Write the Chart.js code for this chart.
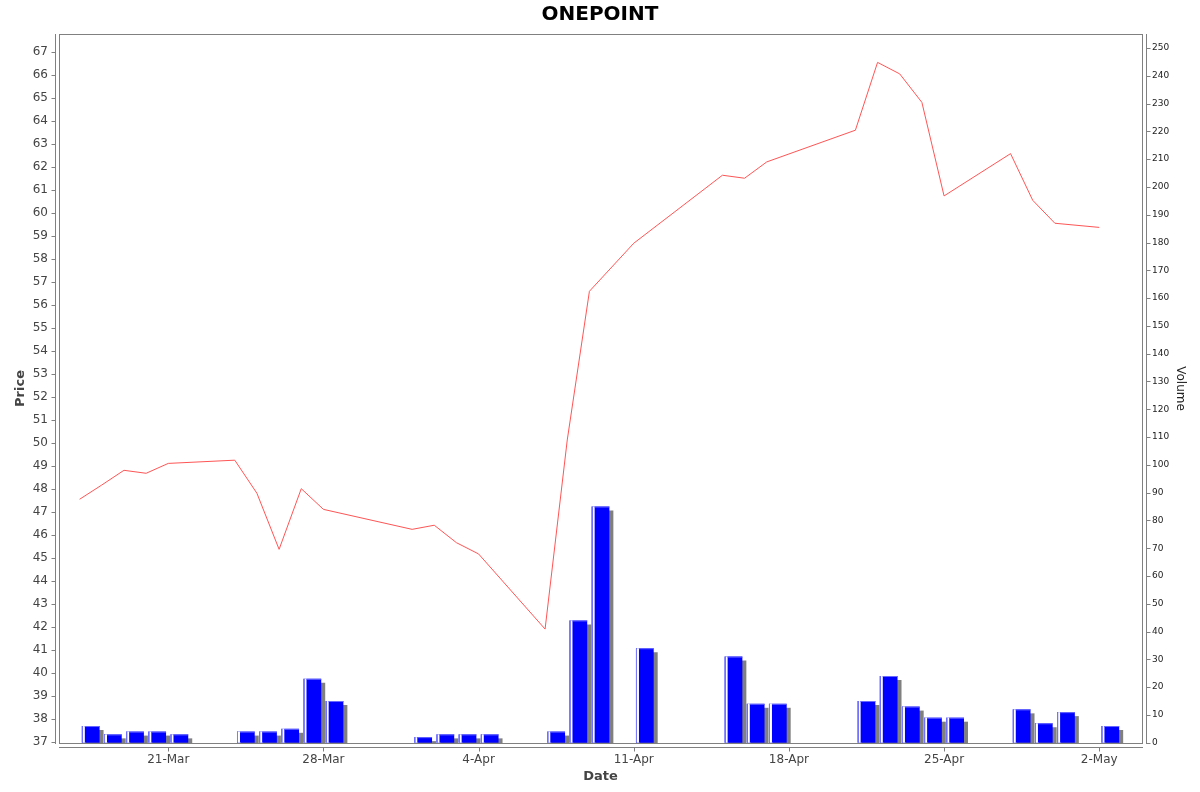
<!DOCTYPE html>
<html>
<head>
<meta charset="utf-8">
<script src="https://cdn.jsdelivr.net/npm/chart.js@4.4.1/dist/chart.umd.min.js"></script>
<style>
  html, body { margin: 0; padding: 0; background: #fff; }
  #wrap { width: 1200px; height: 792px; position: relative; }
</style>
</head>
<body>
<div id="wrap"><canvas id="c"></canvas></div>
<script>
// ---- data ----
const tradeDates = ['17-Mar','18-Mar','19-Mar','20-Mar','21-Mar','24-Mar','25-Mar','26-Mar','27-Mar','28-Mar',
  '1-Apr','2-Apr','3-Apr','4-Apr','7-Apr','8-Apr','9-Apr','11-Apr','15-Apr','16-Apr','17-Apr',
  '21-Apr','22-Apr','23-Apr','24-Apr','25-Apr','28-Apr','29-Apr','30-Apr','2-May'];
const priceValues = [47.55, 48.17, 48.81, 48.68, 49.11, 49.25, 47.81, 45.37, 48.01, 47.11,
  46.24, 46.42, 45.66, 45.17, 41.90, 50.13, 56.60, 58.69, 61.65, 61.52, 62.23,
  63.61, 66.56, 66.06, 64.82, 60.75, 62.59, 60.56, 59.56, 59.38];
const volumeValues = [6, 3, 4, 4, 3, 4, 4, 5, 23, 15,
  2, 3, 3, 3, 4, 44, 85, 34, 31, 14, 14,
  15, 24, 13, 9, 9, 12, 7, 11, 6];
const xTickLabels = ['21-Mar','28-Mar','4-Apr','11-Apr','18-Apr','25-Apr','2-May'];
const chartTitle = 'ONEPOINT';

// ---- helpers ----
const monthStart = { Mar: 0, Apr: 31, May: 61 };
function dayNum(s) { const [d, m] = s.split('-'); return monthStart[m] + Number(d); }
const tradeDays = tradeDates.map(dayNum);
const tickDays = xTickLabels.map(dayNum);

const FONT = 'DejaVu Sans';
const GRAY = '#808080';

const framePlugin = {
  id: 'frame',
  beforeDatasetDraw(chart, args) {
    if (args.meta.type === 'bar') {
      const ctx = chart.ctx;
      const r = chart.currentDevicePixelRatio || 1;
      ctx.save();
      ctx.shadowColor = '#808080';
      ctx.shadowBlur = 0;
      ctx.shadowOffsetX = 4 * r;
      ctx.shadowOffsetY = 4 * r;
    }
  },
  afterDatasetDraw(chart, args) {
    if (args.meta.type === 'bar') {
      const ctx = chart.ctx;
      ctx.restore();
      ctx.save();
      args.meta.data.forEach(el => {
        const p = el.getProps(['x', 'y', 'base', 'width'], true);
        const l = p.x - p.width / 2;
        const h = p.base - p.y;
        ctx.fillStyle = '#ffffff';
        ctx.fillRect(l + 1, p.y, 2, h);
        ctx.fillStyle = '#7c7cff';
        ctx.fillRect(l, p.y, 1, h);
        ctx.fillStyle = '#6a6aff';
        ctx.fillRect(l + 3, p.y, p.width - 3, 1);
      });
      ctx.restore();
    }
  },
  afterDraw(chart) {
    const { ctx, chartArea: a, scales } = chart;
    ctx.save();
    ctx.strokeStyle = GRAY;
    ctx.lineWidth = 1;
    // plot border
    ctx.strokeRect(a.left + 0.5, a.top + 0.5, a.right - a.left, a.bottom - a.top);
    ctx.beginPath();
    // left axis line + ticks
    const lx = a.left - 3.5;
    ctx.moveTo(lx, a.top); ctx.lineTo(lx, a.bottom + 1);
    scales.y.ticks.forEach(t => {
      const py = Math.round(scales.y.getPixelForValue(t.value)) + 0.5;
      ctx.moveTo(lx - 4, py); ctx.lineTo(lx, py);
    });
    // right axis line + ticks
    const rx = a.right + 4.5;
    ctx.moveTo(rx, a.top); ctx.lineTo(rx, a.bottom + 1);
    scales.y1.ticks.forEach(t => {
      const py = Math.round(scales.y1.getPixelForValue(t.value)) + 0.5;
      ctx.moveTo(rx, py); ctx.lineTo(rx + 4, py);
    });
    // bottom axis line + ticks
    const by = a.bottom + 4.5;
    ctx.moveTo(a.left, by); ctx.lineTo(a.right + 1, by);
    scales.x.ticks.forEach(t => {
      const px = Math.round(scales.x.getPixelForValue(t.value)) + 0.5;
      ctx.moveTo(px, by); ctx.lineTo(px, by + 4);
    });
    ctx.stroke();
    ctx.restore();
  }
};

new Chart(document.getElementById('c'), {
  type: 'bar',
  data: {
    datasets: [
      {
        type: 'line',
        label: 'Price',
        data: tradeDays.map((d, i) => ({ x: d, y: priceValues[i] })),
        yAxisID: 'y',
        borderColor: '#ff5555',
        borderWidth: 1,
        pointRadius: 0,
        tension: 0,
        fill: false,
        order: 0
      },
      {
        type: 'bar',
        label: 'Volume',
        data: tradeDays.map((d, i) => ({ x: d + 0.5, y: volumeValues[i] })),
        yAxisID: 'y1',
        backgroundColor: '#0000ff',
        borderWidth: 0,
        barPercentage: 0.8,
        categoryPercentage: 1.0,
        order: 1
      }
    ]
  },
  options: {
    responsive: true,
    maintainAspectRatio: false,
    animation: false,
    events: [],
    layout: { padding: 0 },
    plugins: {
      legend: { display: false },
      tooltip: { enabled: false },
      title: {
        display: true,
        text: chartTitle,
        color: '#000',
        font: { family: FONT, size: 20, weight: 'bold', lineHeight: 1.2 },
        padding: { top: 3, bottom: 7 }
      }
    },
    scales: {
      x: {
        type: 'linear',
        position: 'bottom',
        min: 16.07,
        max: 64.93,
        offset: false,
        grid: { display: false, drawTicks: false },
        border: { display: false },
        afterBuildTicks: (scale) => { scale.ticks = tickDays.map(v => ({ value: v })); },
        afterFit: (scale) => { scale.height = 49; },
        ticks: {
          autoSkip: false,
          maxRotation: 0,
          padding: 10,
          color: '#444',
          font: { family: FONT, size: 12 },
          callback: (v, i) => xTickLabels[i]
        },
        title: {
          display: true, text: 'Date', color: '#444',
          font: { family: FONT, size: 13, weight: 'bold', lineHeight: 1.2 },
          padding: { top: 0, bottom: 8 }
        }
      },
      y: {
        type: 'linear',
        position: 'left',
        min: 36.943,
        max: 67.796,
        grid: { display: false, drawTicks: false },
        border: { display: false },
        afterFit: (scale) => { scale.width = 59; },
        ticks: {
          stepSize: 1,
          includeBounds: false,
          padding: 11,
          color: '#444',
          font: { family: FONT, size: 12 }
        },
        title: {
          display: true, text: 'Price', color: '#444',
          font: { family: FONT, size: 13, weight: 'bold', lineHeight: 1.2 },
          padding: { top: 13, bottom: 0 }
        }
      },
      y1: {
        type: 'linear',
        position: 'right',
        min: -0.11,
        max: 255.04,
        grid: { display: false, drawTicks: false },
        border: { display: false },
        afterFit: (scale) => { scale.width = 58; },
        ticks: {
          stepSize: 10,
          includeBounds: false,
          padding: 10,
          color: '#222',
          font: { family: FONT, size: 9 }
        },
        title: {
          display: true, text: 'Volume', color: '#222',
          font: { family: FONT, size: 12, lineHeight: 1.2 },
          padding: { top: 13, bottom: 0 }
        }
      }
    }
  },
  plugins: [framePlugin]
});
</script>
</body>
</html>
